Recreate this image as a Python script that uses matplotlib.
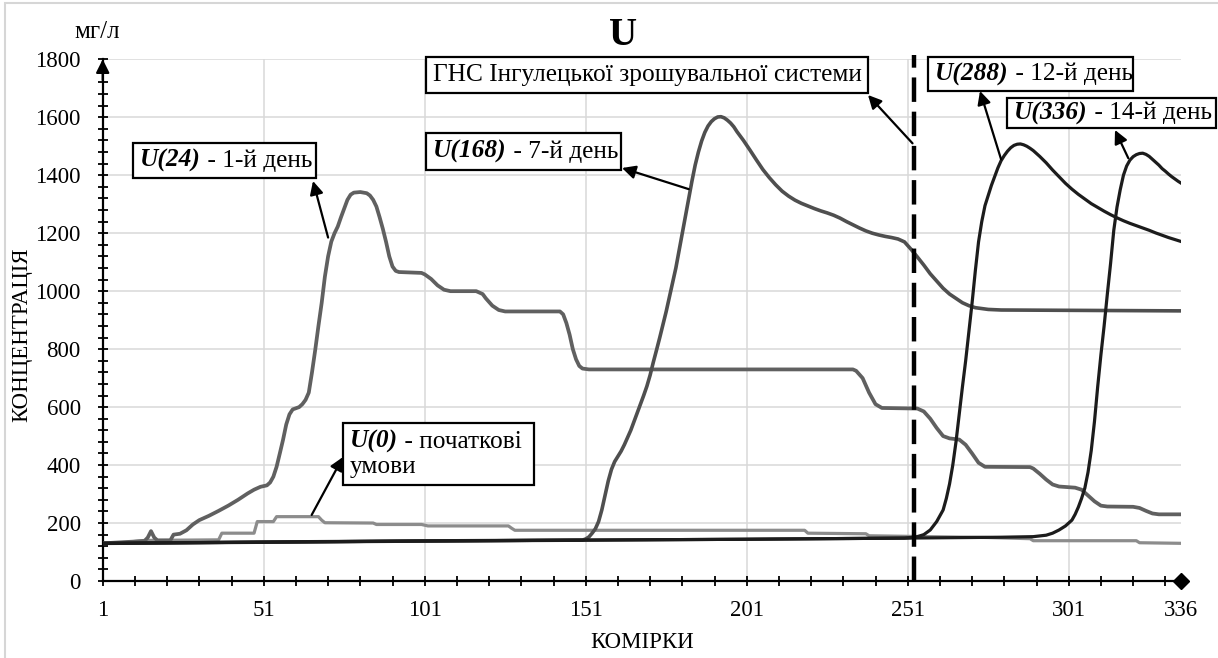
import matplotlib
matplotlib.use('Agg')
import matplotlib.pyplot as plt
from matplotlib.patches import Rectangle
from matplotlib.offsetbox import TextArea, HPacker, VPacker, AnnotationBbox

plt.rcParams['font.family'] = ['Liberation Serif', 'DejaVu Serif']

# ---------------- data ----------------
x_ticks = [1, 51, 101, 151, 201, 251, 301, 336]
y_ticks = [0, 200, 400, 600, 800, 1000, 1200, 1400, 1600, 1800]

# U(0) - initial conditions
u0_x = [1, 8, 14, 37, 38, 48, 49, 54, 55, 68, 69, 70, 85, 86, 100, 102, 127, 128, 129,
        219, 220, 238, 239, 276, 289, 290, 322, 323, 336]
u0_y = [130, 133, 140, 142, 165, 165, 205, 205, 222, 222, 210, 201, 200, 195, 195, 190, 190, 182, 175,
        175, 165, 163, 156, 150, 146, 139, 139, 132, 130]

# U(24) - day 1
u24_x = [1, 14, 15, 16, 17, 18, 22, 23, 25, 27, 29, 31, 34, 37, 40, 43, 46, 48, 50, 52, 53, 54, 55,
         56, 57, 58, 59, 60, 62, 63, 64, 65, 66, 67, 68, 69, 70, 71, 72, 73, 74, 75, 76, 77, 78, 79,
         81, 83, 84, 85, 86, 87, 88, 89, 90, 91, 92, 93, 100, 101, 103, 105, 107, 109, 117, 119, 120,
         122, 124, 126, 143, 144, 145, 146, 147, 148, 149, 150, 152, 234, 235, 237, 239, 241, 243,
         254, 256, 258, 260, 262, 264, 267, 269, 271, 273, 275, 289, 290, 292, 294, 296, 298, 303,
         305, 307, 309, 311, 313, 321, 323, 325, 327, 329, 336]
u24_y = [130, 138, 150, 172, 150, 140, 140, 160, 163, 175, 195, 210, 225, 242, 260, 280, 302, 315, 325,
         330, 340, 360, 394, 440, 487, 540, 575, 592, 600, 610, 625, 650, 720, 797, 880, 959, 1050,
         1120, 1171, 1200, 1223, 1255, 1285, 1315, 1333, 1340, 1342, 1338, 1330, 1315, 1292, 1255,
         1215, 1170, 1120, 1085, 1070, 1066, 1063, 1058, 1042, 1020, 1005, 1000, 1000, 990, 975, 950,
         935, 930, 930, 920, 890, 850, 800, 765, 742, 733, 730, 730, 725, 700, 650, 610, 597, 595,
         585, 560, 528, 500, 492, 488, 470, 440, 408, 394, 393, 388, 370, 350, 333, 326, 322, 315,
         295, 275, 260, 257, 256, 252, 242, 233, 230, 230]

# U(168) - day 7
u168_x = [1, 50, 100, 148, 150, 151, 152, 153, 154, 155, 156, 157, 158, 159, 160, 161, 162, 163, 164,
          165, 166, 167, 168, 169, 170, 171, 172, 173, 174, 175, 176, 177, 178, 179, 180, 181, 182,
          183, 184, 185, 186, 187, 188, 189, 190, 191, 192, 193, 194, 195, 196, 197, 198, 200, 202,
          204, 206, 208, 210, 212, 214, 216, 218, 220, 222, 224, 226, 228, 230, 232, 234, 236, 238,
          240, 242, 244, 246, 248, 250, 252, 254, 256, 258, 260, 262, 264, 266, 268, 270, 272, 276,
          280, 336]
u168_y = [130, 134, 138, 141, 141, 145, 152, 165, 180, 205, 245, 295, 345, 385, 412, 430, 448, 470,
          495, 520, 550, 580, 610, 640, 672, 710, 755, 797, 840, 885, 930, 980, 1030, 1080, 1140,
          1200, 1260, 1320, 1380, 1435, 1480, 1518, 1548, 1570, 1585, 1595, 1601, 1602, 1598, 1590,
          1580, 1567, 1550, 1520, 1487, 1453, 1420, 1392, 1367, 1345, 1328, 1314, 1303, 1294, 1285,
          1277, 1270, 1262, 1252, 1240, 1229, 1218, 1208, 1200, 1194, 1189, 1185, 1180, 1170, 1145,
          1118, 1090, 1060, 1035, 1010, 990, 975, 960, 950, 943, 937, 935, 932]

# U(288) - day 12
u288_x = [1, 50, 100, 150, 200, 250, 252, 254, 256, 258, 260, 262, 263, 264, 265, 266, 267, 268, 269,
          270, 271, 272, 273, 274, 275, 276, 277, 278, 279, 280, 281, 282, 283, 284, 285, 286, 287,
          288, 289, 290, 292, 294, 296, 298, 300, 302, 304, 306, 308, 310, 312, 314, 316, 318, 320,
          322, 324, 326, 328, 330, 332, 334, 336]
u288_y = [130, 134, 138, 141, 144, 148, 150, 153, 160, 176, 205, 245, 285, 335, 400, 480, 575, 670,
          760, 860, 960, 1070, 1170, 1240, 1295, 1330, 1365, 1395, 1425, 1450, 1468, 1483, 1495, 1503,
          1507, 1508, 1505, 1500, 1493, 1485, 1465, 1443, 1418, 1395, 1372, 1352, 1334, 1318, 1302,
          1289, 1276, 1264, 1253, 1243, 1234, 1226, 1218, 1210, 1201, 1193, 1185, 1178, 1171]

# U(336) - day 14
u336_x = [1, 50, 100, 150, 200, 250, 280, 290, 294, 296, 298, 300, 302, 303, 304, 305, 306, 307, 308,
          309, 310, 311, 312, 313, 314, 315, 316, 317, 318, 319, 320, 321, 322, 323, 324, 325, 326,
          327, 328, 329, 330, 331, 332, 333, 334, 335, 336]
u336_y = [130, 134, 138, 141, 144, 148, 151, 153, 158, 165, 176, 190, 210, 230, 255, 285, 320, 375,
          450, 550, 670, 780, 880, 990, 1095, 1210, 1290, 1350, 1400, 1432, 1452, 1464, 1471, 1475,
          1476, 1472, 1465, 1455, 1445, 1435, 1423, 1414, 1404, 1395, 1387, 1379, 1372]

station_cell = 253

# ---------------- figure ----------------
W, H = 1218, 658
fig = plt.figure(figsize=(W / 100, H / 100), dpi=100)


def fx(px):
    return px / W


def fy(py):
    return 1 - py / H


ax = fig.add_axes([fx(102.7), fy(581), (1181.4 - 102.7) / W, (581 - 59.3) / H])
ax.set_xlim(1, 336)
ax.set_ylim(0, 1800)

grid_c = '#d9d9d9'
for xv in x_ticks[1:-1]:
    ax.axvline(xv, color=grid_c, lw=1.1, zorder=0)
for yv in y_ticks[1:]:
    ax.axhline(yv, color=grid_c, lw=1.1, zorder=0)

ax.plot(u0_x, u0_y, color='#8c8c8c', lw=2.3, zorder=2)
ax.plot(u24_x, u24_y, color='#606060', lw=2.7, zorder=3, solid_joinstyle='round')
ax.plot(u168_x, u168_y, color='#4f4f4f', lw=2.6, zorder=3, solid_joinstyle='round')
ax.plot(u288_x, u288_y, color='#1c1c1c', lw=2.3, zorder=4, solid_joinstyle='round')
ax.plot(u336_x, u336_y, color='#1c1c1c', lw=2.3, zorder=4, solid_joinstyle='round')

ax.plot([station_cell, station_cell], [0, 1815], color='k', lw=3.2, dashes=(5.5, 2.2),
        clip_on=False, zorder=5)

for s in ['top', 'right']:
    ax.spines[s].set_visible(False)
for s in ['left', 'bottom']:
    ax.spines[s].set_linewidth(1.6)
    ax.spines[s].set_color('k')

ax.set_xticks(x_ticks)
ax.set_xticklabels([str(v) for v in x_ticks])
ax.set_xticks([v for v in range(11, 336, 10) if v not in x_ticks], minor=True)
ax.set_yticks(y_ticks)
ax.set_yticklabels([str(v) for v in y_ticks])
ax.set_yticks([v for v in range(0, 1801, 40) if v % 200 != 0], minor=True)
ax.tick_params(which='both', direction='inout', length=7.5, width=1.3, colors='k', labelsize=16.5)
ax.tick_params(axis='y', which='both', pad=12)
ax.tick_params(axis='x', which='both', pad=10)

# axis end markers
ax.annotate('', xy=(0, 1.0), xytext=(0, 0.96), xycoords='axes fraction',
            arrowprops=dict(arrowstyle='-|>', color='k', lw=1.6, mutation_scale=20,
                            shrinkA=0, shrinkB=0), annotation_clip=False)
ax.plot([1], [0], marker='D', ms=8.5, color='k', transform=ax.transAxes, clip_on=False, zorder=6)

# axis texts
fig.text(fx(22), fy(335), 'КОНЦЕНТРАЦІЯ', rotation=90, ha='center', va='center', fontsize=16.5)
fig.text(fx(642), fy(643), 'КОМІРКИ', ha='center', va='center', fontsize=16.5)
fig.text(fx(97), fy(38), 'мг/л', ha='center', va='baseline', fontsize=18)
fig.text(fx(623), fy(45), 'U', ha='center', va='baseline', fontsize=28, fontweight='bold')

# outer border
fig.add_artist(Rectangle((fx(5), -0.02), 1.1, fy(3) + 0.02, transform=fig.transFigure,
                         fill=False, edgecolor='#d6d6d6', lw=1.5, zorder=0))

FS = 18.3
bi = dict(fontsize=FS, fontweight='bold', fontstyle='italic', color='k')
nm = dict(fontsize=FS, color='k')


def box(x0, y0, x1, y1, content, text_x=None):
    fig.add_artist(Rectangle((fx(x0), fy(y1)), (x1 - x0) / W, (y1 - y0) / H,
                             transform=fig.transFigure, facecolor='white', edgecolor='k',
                             lw=1.6, zorder=10))
    tx = x0 + 7 if text_x is None else text_x
    ab = AnnotationBbox(content, (fx(tx), fy((y0 + y1) / 2)), xycoords='figure fraction',
                        box_alignment=(0, 0.5), frameon=False, pad=0, zorder=11)
    fig.add_artist(ab)


def label(head_part, tail_part):
    return HPacker(children=[TextArea(head_part, textprops=bi), TextArea(tail_part, textprops=nm)],
                   align='baseline', pad=0, sep=0)


def arrow(head_px, tail_data):
    ax.annotate('', xy=(fx(head_px[0]), fy(head_px[1])), xycoords='figure fraction',
                xytext=tail_data, textcoords='data',
                arrowprops=dict(arrowstyle='-|>', color='k', lw=1.6, mutation_scale=20,
                                shrinkA=0, shrinkB=0), annotation_clip=False, zorder=9)


box(133, 143, 316, 178, label('U(24)', ' - 1-й день'))
arrow((313, 181), (71, 1185))

box(426, 133, 621, 170, label('U(168)', ' - 7-й день'))
arrow((622, 168), (183, 1352))

box(426, 57, 868, 93, TextArea('ГНС Інгулецької зрошувальної системи', textprops=nm))
arrow((868, 95), (252.5, 1510))

box(928, 57, 1133, 91, label('U(288)', ' - 12-й день'))
arrow((980, 91), (280, 1455))

box(1007, 98, 1216, 128, label('U(336)', ' - 14-й день'))
arrow((1115, 130), (319.5, 1459))

u0_content = VPacker(children=[label('U(0)', ' - початкові'), TextArea('умови', textprops=nm)],
                     align='left', pad=0, sep=2)
box(343, 423, 534, 485, u0_content)
arrow((343, 457), (65.9, 228))

fig.savefig('out.png', dpi=100)
